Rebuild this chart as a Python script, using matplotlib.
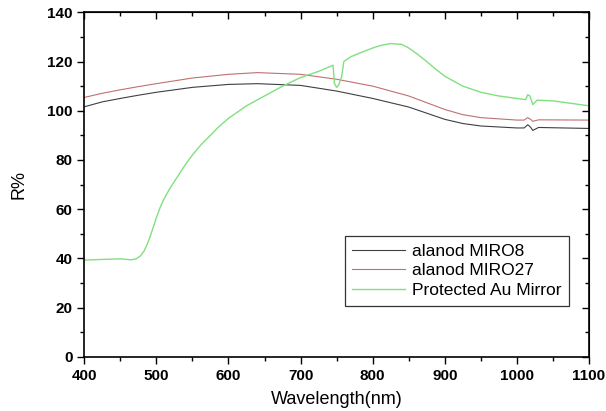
import matplotlib
matplotlib.use("Agg")
import matplotlib.pyplot as plt
import numpy as np

plt.rcParams['font.family'] = ['Liberation Sans', 'DejaVu Sans']

# reflectance spectra
wl_miro8 = [400, 425, 450, 475, 500, 550, 600, 640, 700, 750, 800, 850, 900, 925,
            950, 1000, 1010, 1015, 1019, 1022, 1026, 1030, 1100]
r_miro8 = [101.6, 103.6, 105.0, 106.3, 107.5, 109.5, 110.7, 111.0, 110.3, 108.0,
           105.0, 101.5, 96.5, 94.8, 93.8, 93.0, 93.0, 94.3, 93.3, 92.0, 92.6,
           93.2, 92.8]

wl_miro27 = [400, 425, 450, 475, 500, 550, 600, 640, 700, 750, 800, 850, 900, 925,
             950, 1000, 1010, 1015, 1019, 1022, 1026, 1030, 1100]
r_miro27 = [105.4, 107.1, 108.5, 109.8, 111.0, 113.3, 114.8, 115.5, 114.8, 112.8,
            110.0, 106.0, 100.5, 98.4, 97.2, 96.2, 96.2, 97.2, 96.5, 95.7, 96.0,
            96.3, 96.2]

wl_au = [400, 430, 450, 465, 472, 478, 483, 487, 491, 495, 500, 505, 510, 515,
         520, 530, 540, 550, 562, 575, 587, 600, 625, 650, 675, 700, 725, 745,
         747, 750, 753, 757, 760, 770, 785, 800, 812, 825, 840, 850, 862, 875,
         887, 900, 925, 950, 975, 1000, 1012, 1015, 1018, 1022, 1028, 1050,
         1075, 1100]
r_au = [39.3, 39.6, 39.8, 39.4, 39.8, 41.0, 43.0, 45.5, 48.5, 52.0, 56.5, 60.5,
        63.8, 66.5, 69.0, 73.5, 78.0, 82.0, 86.2, 90.0, 93.6, 96.9, 102.0, 106.0,
        110.0, 113.5, 116.0, 118.5, 111.0, 109.5, 110.5, 114.0, 120.0, 122.0,
        123.8, 125.5, 126.6, 127.3, 127.0, 125.5, 123.0, 120.0, 117.0, 114.0,
        110.0, 107.5, 106.0, 105.0, 104.5, 106.5, 106.0, 102.5, 104.3, 104.0,
        103.0, 102.0]

fig = plt.figure(figsize=(6.06, 4.11), dpi=100)
ax = fig.add_axes([0.139, 0.132, 0.833, 0.838])

ax.plot(wl_miro8, r_miro8, color='#404040', lw=0.8, label='alanod MIRO8')
ax.plot(wl_miro27, r_miro27, color='#c07070', lw=0.8, label='alanod MIRO27')
ax.plot(wl_au, r_au, color='#80e080', lw=1.0, label='Protected Au Mirror')

ax.set_xlim(400, 1100)
ax.set_ylim(0, 140)
ax.set_xticks(np.arange(400, 1101, 100))
ax.set_yticks(np.arange(0, 141, 20))
ax.set_xticks(np.arange(450, 1100, 100), minor=True)
ax.set_yticks(np.arange(10, 140, 20), minor=True)

for lab in ax.get_xticklabels() + ax.get_yticklabels():
    lab.set_fontweight('bold')
    lab.set_fontsize(11)

ax.tick_params(which='both', direction='out', width=1.0)
ax.tick_params(which='major', length=5)
ax.tick_params(which='minor', length=3)
for s in ax.spines.values():
    s.set_linewidth(1.2)

# inward ticks on top and right
axt = ax.secondary_xaxis('top')
axt.set_xticks(np.arange(400, 1101, 100))
axt.set_xticks(np.arange(450, 1100, 100), minor=True)
axt.tick_params(which='both', direction='in', labeltop=False, width=1.0)
axt.tick_params(which='major', length=5)
axt.tick_params(which='minor', length=3)
axr = ax.secondary_yaxis('right')
axr.set_yticks(np.arange(0, 141, 20))
axr.set_yticks(np.arange(10, 140, 20), minor=True)
axr.tick_params(which='both', direction='in', labelright=False, width=1.0)
axr.tick_params(which='major', length=5)
axr.tick_params(which='minor', length=3)

ax.set_xlabel('Wavelength(nm)', fontsize=13, labelpad=6)
ax.set_ylabel('R%', fontsize=13, labelpad=14)

leg = ax.legend(loc='lower right', bbox_to_anchor=(0.96, 0.148), fontsize=12.5,
                frameon=True, fancybox=False, handlelength=3.0, handletextpad=0.4,
                borderpad=0.45, labelspacing=0.25, borderaxespad=0.0)
leg.get_frame().set_edgecolor('black')
leg.get_frame().set_linewidth(0.9)

fig.savefig('out.png', dpi=100)
